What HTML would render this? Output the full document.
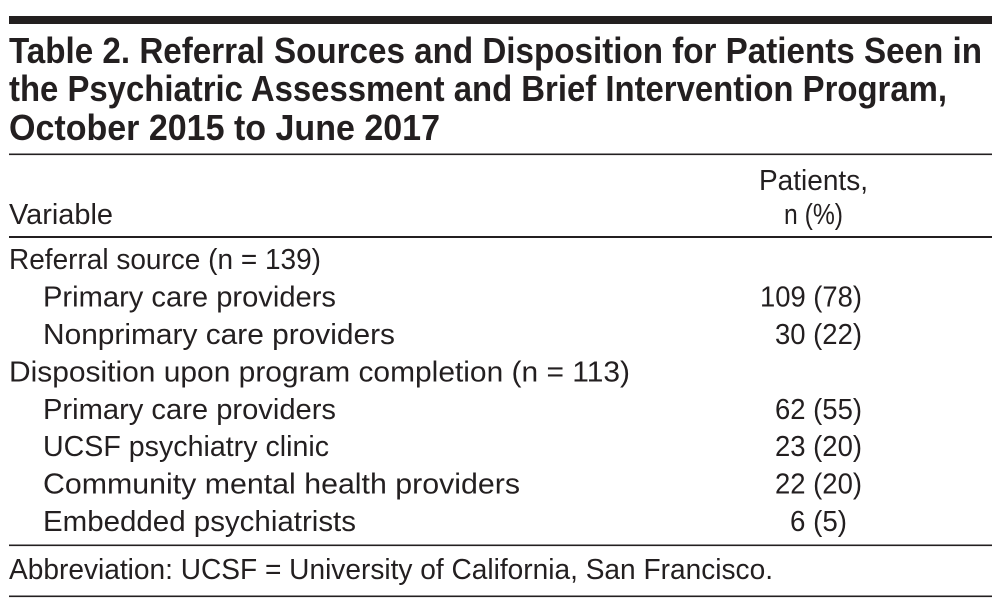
<!DOCTYPE html>
<html>
<head>
<meta charset="utf-8">
<style>
  html, body { margin: 0; padding: 0; background: #ffffff; }
  body { width: 1004px; height: 610px; overflow: hidden; }
  svg { display: block; }
  .t { font-family: "Liberation Sans", sans-serif; font-weight: bold; font-size: 36px; fill: #231f20; }
  .b { font-family: "Liberation Sans", sans-serif; font-size: 29px; fill: #231f20; }
</style>
</head>
<body>
<svg width="1004" height="610" viewBox="0 0 1004 610" xmlns="http://www.w3.org/2000/svg">
  <rect x="0" y="0" width="1004" height="610" fill="#ffffff"/>
  <!-- top thick bar -->
  <rect x="9" y="16" width="983" height="8" fill="#231f20"/>

  <!-- title -->
  <text class="t" x="9" y="63" textLength="973" lengthAdjust="spacingAndGlyphs">Table 2. Referral Sources and Disposition for Patients Seen in</text>
  <text class="t" x="9" y="101" textLength="938" lengthAdjust="spacingAndGlyphs">the Psychiatric Assessment and Brief Intervention Program,</text>
  <text class="t" x="9" y="140" textLength="431" lengthAdjust="spacingAndGlyphs">October 2015 to June 2017</text>

  <!-- rule under title -->
  <rect x="9" y="153.5" width="983" height="1.6" fill="#231f20"/>

  <!-- header -->
  <text class="b" x="9" y="224" textLength="104" lengthAdjust="spacingAndGlyphs">Variable</text>
  <text class="b" x="759" y="190" textLength="109" lengthAdjust="spacingAndGlyphs">Patients,</text>
  <text class="b" x="784" y="224" textLength="59" lengthAdjust="spacingAndGlyphs">n (%)</text>

  <!-- rule under header -->
  <rect x="9" y="236" width="983" height="2" fill="#231f20"/>

  <!-- body rows -->
  <text class="b" x="9" y="269" textLength="312" lengthAdjust="spacingAndGlyphs">Referral source (n = 139)</text>
  <text class="b" x="43" y="306.5" textLength="293" lengthAdjust="spacingAndGlyphs">Primary care providers</text>
  <text class="b" x="43" y="344" textLength="352" lengthAdjust="spacingAndGlyphs">Nonprimary care providers</text>
  <text class="b" x="9" y="381.5" textLength="621" lengthAdjust="spacingAndGlyphs">Disposition upon program completion (n = 113)</text>
  <text class="b" x="43" y="419" textLength="293" lengthAdjust="spacingAndGlyphs">Primary care providers</text>
  <text class="b" x="43" y="456" textLength="286" lengthAdjust="spacingAndGlyphs">UCSF psychiatry clinic</text>
  <text class="b" x="43" y="493.5" textLength="477" lengthAdjust="spacingAndGlyphs">Community mental health providers</text>
  <text class="b" x="43" y="531" textLength="313" lengthAdjust="spacingAndGlyphs">Embedded psychiatrists</text>

  <!-- numbers -->
  <text class="b" x="760" y="306.5" textLength="102" lengthAdjust="spacingAndGlyphs">109 (78)</text>
  <text class="b" x="775" y="344" textLength="87" lengthAdjust="spacingAndGlyphs">30 (22)</text>
  <text class="b" x="775" y="419" textLength="87" lengthAdjust="spacingAndGlyphs">62 (55)</text>
  <text class="b" x="775" y="456" textLength="87" lengthAdjust="spacingAndGlyphs">23 (20)</text>
  <text class="b" x="775" y="493.5" textLength="87" lengthAdjust="spacingAndGlyphs">22 (20)</text>
  <text class="b" x="790" y="531" textLength="57" lengthAdjust="spacingAndGlyphs">6 (5)</text>

  <!-- rule above footnote -->
  <rect x="9" y="544.5" width="983" height="1.6" fill="#231f20"/>

  <!-- footnote -->
  <text class="b" x="9" y="579" textLength="764" lengthAdjust="spacingAndGlyphs">Abbreviation: UCSF = University of California, San Francisco.</text>

  <!-- bottom rule -->
  <rect x="9" y="595.5" width="983" height="1.6" fill="#231f20"/>
</svg>
</body>
</html>
